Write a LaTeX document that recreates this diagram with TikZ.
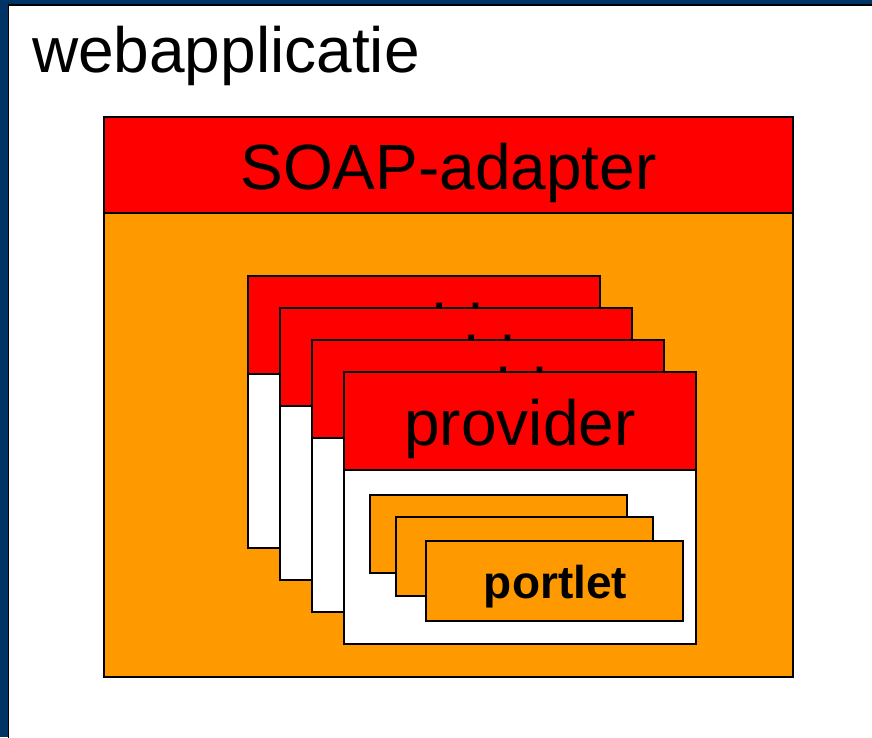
\documentclass[tikz,border=0pt]{standalone}
\usepackage{fontspec}
\setmainfont{Liberation Sans}
\usetikzlibrary{positioning}

\definecolor{slideblue}{RGB}{0,51,102}
\definecolor{adapterred}{RGB}{255,0,0}
\definecolor{portletorange}{RGB}{255,153,0}

\tikzset{
	bigtext/.style={anchor=base, font=\fontsize{64}{70}\selectfont},
	portlettext/.style={anchor=base, font=\fontsize{46}{50}\selectfont\bfseries}
}

\begin{document}
\begin{tikzpicture}[x=1pt,y=-1pt,line width=2pt]
		
		\useasboundingbox (0,0) rectangle (872,737);
		
		% Slide frame
		\fill[slideblue] (0,0) rectangle (872,737);
		\draw[black,fill=white,line width=1.5pt] (8.5,5) rectangle (880,745);
		
		\node[bigtext,anchor=base west,inner sep=0pt] (title) at (31,72) {webapplicatie};
		
		% SOAP-adapter
		\draw[black,fill=portletorange] (104,117) rectangle (793,677);
		\draw[black,fill=adapterred] (104,117) rectangle (793,213);
		\node[bigtext] (adapter) at (448.5,189) {SOAP-adapter};
		
		% First provider
		\draw[black,fill=white] (248,276) rectangle (600,548);
		\draw[black,fill=adapterred] (248,276) rectangle (600,374);
		\node[bigtext] (provA) at (424,349) {provider};
		
		% Second provider
		\draw[black,fill=white] (280,308) rectangle (632,580);
		\draw[black,fill=adapterred] (280,308) rectangle (632,406);
		\node[bigtext] (provB) at (456,381) {provider};
		
		% Third provider
		\draw[black,fill=white] (312,340) rectangle (664,612);
		\draw[black,fill=adapterred] (312,340) rectangle (664,438);
		\node[bigtext] (provC) at (488,413) {provider};
		
		% Fourth provider
		\draw[black,fill=white] (344,372) rectangle (696,644);
		\draw[black,fill=adapterred] (344,372) rectangle (696,470);
		\node[bigtext] (provD) at (520,445) {provider};
		
		%% Portlets
		\draw[black,fill=portletorange] (370,495) rectangle (627,573);
		\draw[black,fill=portletorange] (396,517) rectangle (653,596);
		\draw[black,fill=portletorange] (426,541) rectangle (683,621);
		\node[portlettext] (portlet) at (555.5,598) {portlet};
		
	\end{tikzpicture}
\end{document}
